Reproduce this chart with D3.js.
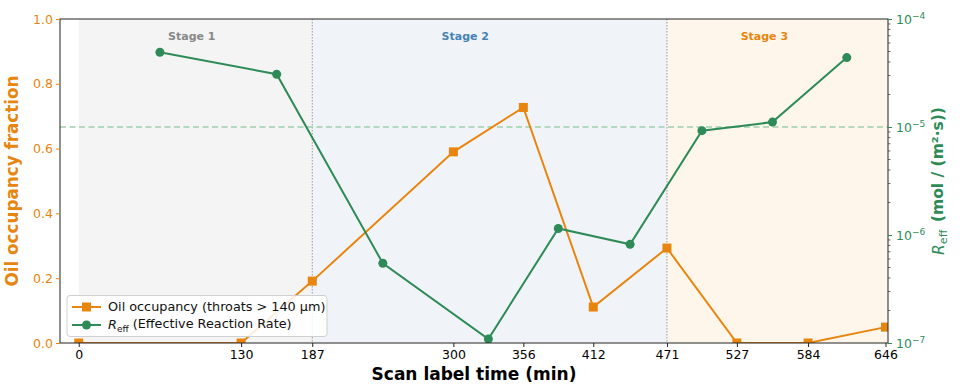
<!DOCTYPE html>
<html>
<head>
<meta charset="utf-8">
<script src="https://cdn.jsdelivr.net/npm/d3@7"></script>
<style>
  html, body { margin: 0; padding: 0; background: #fff; }
  svg { display: block; font-family: "DejaVu Sans", sans-serif; }
</style>
</head>
<body>
<svg id="chart" width="980" height="385"></svg>
<script>
// ---- data ----
const scanTimes = [0, 130, 187, 300, 356, 412, 471, 527, 584, 646];
const oilOccupancy = [0.0, 0.0, 0.191, 0.590, 0.727, 0.111, 0.293, 0.0, 0.0, 0.049];
const reffTimes = [65, 158.5, 243.5, 328, 384, 441.5, 499, 555.5, 615];
const reffValues = [4.92e-5, 3.08e-5, 5.47e-7, 1.09e-7, 1.15e-6, 8.2e-7, 9.25e-6, 1.11e-5, 4.39e-5];
const stageNames = ["Stage 1", "Stage 2", "Stage 3"];
const stageStarts = [0, 187, 471];
const stageEnds = [187, 471, 648];
const stageLabelTimes = [90.5, 309.5, 549];
const stageBoundaries = [187, 471];
const leftTicks = [0.0, 0.2, 0.4, 0.6, 0.8, 1.0];
const rightTicks = [1e-7, 1e-6, 1e-5, 1e-4];
const refLine = 1e-5;

// ---- style ----
const ORANGE = "#e8850e";
const GREEN = "#2e8b57";
const stageFill = ["#f4f4f4", "#f0f4f8", "#fef6eb"];
const stageText = ["#888888", "#4682b4", "#e8850e"];

const L = 60, R = 888, T = 19, B = 343;
const svg = d3.select("#chart");

const x = d3.scaleLinear().domain([-15, 648]).range([L, R]);
const yL = d3.scaleLinear().domain([0, 1]).range([B, T]);
const yR = d3.scaleLog().domain([1e-7, 1e-4]).range([B, T]);

svg.append("defs").append("clipPath").attr("id", "clip")
  .append("rect").attr("x", L).attr("y", T).attr("width", R - L).attr("height", B - T);

const plot = svg.append("g").attr("clip-path", "url(#clip)");

// stage backgrounds
plot.selectAll("rect.stage").data(stageNames).enter().append("rect")
  .attr("class", "stage")
  .attr("x", (d, i) => x(stageStarts[i]))
  .attr("width", (d, i) => x(stageEnds[i]) - x(stageStarts[i]))
  .attr("y", T).attr("height", B - T)
  .attr("fill", (d, i) => stageFill[i]);

// stage labels
svg.selectAll("text.stage").data(stageNames).enter().append("text")
  .attr("x", (d, i) => x(stageLabelTimes[i]))
  .attr("y", 40)
  .attr("text-anchor", "middle")
  .attr("font-size", 11)
  .attr("font-weight", "bold")
  .attr("fill", (d, i) => stageText[i])
  .text(d => d);

// stage boundaries
plot.selectAll("line.bound").data(stageBoundaries).enter().append("line")
  .attr("x1", d => x(d)).attr("x2", d => x(d))
  .attr("y1", T).attr("y2", B)
  .attr("stroke", "#999").attr("stroke-width", 1)
  .attr("stroke-dasharray", "1.5,1.5");

// reference line
plot.append("line")
  .attr("x1", L).attr("x2", R)
  .attr("y1", yR(refLine)).attr("y2", yR(refLine))
  .attr("stroke", "#9fcfae").attr("stroke-width", 1.3)
  .attr("stroke-dasharray", "6,3.5");

// oil occupancy
const oilPts = scanTimes.map((t, i) => [t, oilOccupancy[i]]);
plot.append("path")
  .attr("d", d3.line().x(d => x(d[0])).y(d => yL(d[1]))(oilPts))
  .attr("fill", "none").attr("stroke", ORANGE).attr("stroke-width", 2);
plot.selectAll("rect.oil").data(oilPts).enter().append("rect")
  .attr("x", d => x(d[0]) - 4.5).attr("y", d => yL(d[1]) - 4.5)
  .attr("width", 9).attr("height", 9)
  .attr("fill", ORANGE);

// reff
const reffPts = reffTimes.map((t, i) => [t, reffValues[i]]);
plot.append("path")
  .attr("d", d3.line().x(d => x(d[0])).y(d => yR(d[1]))(reffPts))
  .attr("fill", "none").attr("stroke", GREEN).attr("stroke-width", 2);
plot.selectAll("circle.reff").data(reffPts).enter().append("circle")
  .attr("cx", d => x(d[0])).attr("cy", d => yR(d[1]))
  .attr("r", 4.5).attr("fill", GREEN);

// frame
svg.append("rect").attr("x", L).attr("y", T).attr("width", R - L).attr("height", B - T)
  .attr("fill", "none").attr("stroke", "#222").attr("stroke-width", 1);

// bottom axis
const xAxis = svg.append("g").attr("transform", `translate(0,${B})`)
  .call(d3.axisBottom(x).tickValues(scanTimes).tickFormat(d3.format("d")).tickSize(4).tickPadding(3));
xAxis.select(".domain").remove();
xAxis.selectAll("text").attr("font-size", 12.5).attr("fill", "#000").attr("font-family", "DejaVu Sans");
xAxis.selectAll("line").attr("stroke", "#222");

// left axis
const lAxis = svg.append("g").attr("transform", `translate(${L},0)`)
  .call(d3.axisLeft(yL).tickValues(leftTicks).tickFormat(d3.format(".1f")).tickSize(4).tickPadding(3));
lAxis.select(".domain").remove();
lAxis.selectAll("text").attr("font-size", 12.5).attr("fill", ORANGE).attr("font-family", "DejaVu Sans");
lAxis.selectAll("line").attr("stroke", ORANGE);

// right axis
const minorTicks = [];
[1e-7, 1e-6, 1e-5].forEach(base => { for (let k = 2; k <= 9; k++) minorTicks.push(base * k); });
svg.append("g").selectAll("line").data(minorTicks).enter().append("line")
  .attr("x1", R).attr("x2", R + 2.5)
  .attr("y1", d => yR(d)).attr("y2", d => yR(d))
  .attr("stroke", "#333").attr("stroke-width", 0.7);
const rAxis = svg.append("g").attr("transform", `translate(${R},0)`)
  .call(d3.axisRight(yR).tickValues(rightTicks).tickFormat("").tickSize(4));
rAxis.select(".domain").remove();
rAxis.selectAll("line").attr("stroke", GREEN);
rAxis.selectAll(".tick").append("text")
  .attr("x", 8).attr("dy", "0.35em")
  .attr("fill", GREEN).attr("font-size", 12.5).attr("text-anchor", "start")
  .attr("font-family", "DejaVu Sans")
  .each(function (d) {
    const t = d3.select(this);
    t.append("tspan").text("10");
    t.append("tspan").attr("dy", "-0.5em").attr("font-size", 9).text("\u2212" + Math.round(-Math.log10(d)));
  });

// axis titles
svg.append("text")
  .attr("transform", `translate(18,${(T + B) / 2}) rotate(-90)`)
  .attr("text-anchor", "middle")
  .attr("font-size", 16.8).attr("font-weight", "bold").attr("fill", ORANGE)
  .text("Oil occupancy fraction");

svg.append("text")
  .attr("x", (L + R) / 2).attr("y", 380)
  .attr("text-anchor", "middle")
  .attr("font-size", 17).attr("font-weight", "bold").attr("fill", "#000")
  .text("Scan label time (min)");

const rt = svg.append("text")
  .attr("transform", `translate(944,${(T + B) / 2}) rotate(-90)`)
  .attr("text-anchor", "middle")
  .attr("font-size", 15.5).attr("fill", GREEN);
rt.append("tspan").attr("font-style", "italic").text("R");
rt.append("tspan").attr("font-size", 11).attr("dy", "0.3em").text("eff");
rt.append("tspan").attr("dy", "-0.3em").attr("font-weight", "bold").text("\u2002(mol / (m\u00b2\u00b7s))");

// legend
const lg = svg.append("g");
lg.append("rect").attr("x", 67).attr("y", 295.5).attr("width", 260).attr("height", 41)
  .attr("rx", 3).attr("fill", "#fff").attr("fill-opacity", 0.85)
  .attr("stroke", "#d0d0d0").attr("stroke-width", 1);
const legendItems = [
  { color: ORANGE, shape: "square", y: 307 },
  { color: GREEN, shape: "circle", y: 325 }
];
legendItems.forEach(it => {
  lg.append("line").attr("x1", 72).attr("x2", 101).attr("y1", it.y).attr("y2", it.y)
    .attr("stroke", it.color).attr("stroke-width", 2);
  if (it.shape === "square") {
    lg.append("rect").attr("x", 86.5 - 4.5).attr("y", it.y - 4.5).attr("width", 9).attr("height", 9).attr("fill", it.color);
  } else {
    lg.append("circle").attr("cx", 86.5).attr("cy", it.y).attr("r", 4.5).attr("fill", it.color);
  }
});
lg.append("text").attr("x", 108).attr("y", 307).attr("dy", "0.35em")
  .attr("font-size", 12.8).attr("fill", "#111")
  .text("Oil occupancy (throats > 140 \u00b5m)");
const lt2 = lg.append("text").attr("x", 108).attr("y", 325).attr("dy", "0.35em")
  .attr("font-size", 12.8).attr("fill", "#111");
lt2.append("tspan").attr("font-style", "italic").text("R");
lt2.append("tspan").attr("font-size", 9).attr("dy", "0.3em").text("eff");
lt2.append("tspan").attr("dy", "-0.3em").text(" (Effective Reaction Rate)");
</script>
</body>
</html>
